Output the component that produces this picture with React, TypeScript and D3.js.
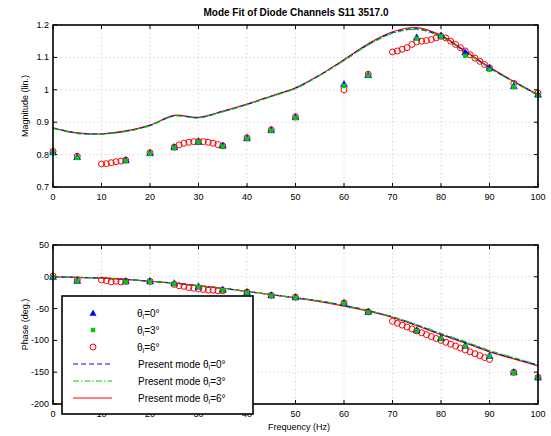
import React from "react";
import * as d3 from "d3";

const title = "Mode Fit of Diode Channels S11 3517.0";
const xLabel = "Frequency (Hz)";
const yLabelTop = "Magnitude (lin.)";
const yLabelBot = "Phase (deg.)";

const xTicks = [0, 10, 20, 30, 40, 50, 60, 70, 80, 90, 100];
const yTicksTop = [0.7, 0.8, 0.9, 1.0, 1.1, 1.2];
const yTicksBot = [-200, -150, -100, -50, 0, 50];

// model curves
const modelFreq = [0, 5, 10, 15, 20, 25, 30, 35, 40, 45, 50, 55, 60, 65, 70, 75, 80, 85, 90, 95, 100];
const modelMag0 = [0.882, 0.866, 0.864, 0.872, 0.89, 0.92, 0.914, 0.933, 0.955, 0.98, 1.005, 1.045, 1.092, 1.14, 1.176, 1.188, 1.165, 1.118, 1.068, 1.025, 0.984];
const modelMag1 = [0.881, 0.865, 0.863, 0.871, 0.889, 0.919, 0.913, 0.932, 0.954, 0.979, 1.004, 1.044, 1.09, 1.138, 1.174, 1.186, 1.164, 1.117, 1.067, 1.024, 0.983];
const modelMag2 = [0.883, 0.867, 0.864, 0.873, 0.891, 0.921, 0.915, 0.934, 0.956, 0.981, 1.006, 1.046, 1.093, 1.142, 1.179, 1.192, 1.168, 1.12, 1.07, 1.026, 0.985];
const modelPh0 = [0, -1, -2, -4, -7, -10, -14, -18, -23, -28, -33, -38, -45, -53, -63, -76, -90, -103, -117, -128, -139];
const modelPh1 = [0, -1, -2, -4, -7, -10, -14, -18, -23, -28, -33, -38, -45, -53, -63, -75, -89, -102, -116, -127, -138];
const modelPh2 = [0, -1, -2, -4, -7, -10, -14, -18, -23, -28, -33, -39, -46, -54, -64, -77, -91, -104, -118, -129, -140];

// measured: theta 0 (blue triangles) and theta 3 (green squares)
const measFreq = [0, 5, 15, 20, 25, 30, 35, 40, 45, 50, 60, 65, 75, 80, 85, 90, 95, 100];
const measMag0 = [0.808, 0.793, 0.783, 0.805, 0.823, 0.84, 0.828, 0.851, 0.876, 0.916, 1.018, 1.046, 1.162, 1.168, 1.116, 1.068, 1.012, 0.986];
const measMag1 = [0.805, 0.79, 0.781, 0.803, 0.821, 0.838, 0.825, 0.849, 0.874, 0.913, 1.012, 1.044, 1.158, 1.165, 1.105, 1.062, 1.008, 0.982];
const measPh0 = [0, -6, -7, -7, -10, -15, -20, -24, -29, -32, -41, -55, -84, -96, -108, -124, -150, -158];
const measPh1 = [-1, -7, -8, -8, -11, -16, -21, -25, -30, -33, -42, -56, -85, -97, -109, -125, -151, -159];

// measured theta 6 (red circles), denser sampling
const redFreq = [0, 5, 10, 11, 12, 13, 14, 15, 20, 25, 26, 27, 28, 29, 30, 31, 32, 33, 34, 35, 40, 45, 50, 60, 65,
  70, 71, 72, 73, 74, 75, 76, 77, 78, 79, 80, 81, 82, 83, 84, 85, 86, 87, 88, 89, 90, 95, 100];
const redMag = [0.81, 0.795, 0.771, 0.772, 0.775, 0.778, 0.78, 0.783, 0.806, 0.823, 0.83, 0.835, 0.838, 0.84, 0.841, 0.84, 0.838, 0.835, 0.831, 0.827, 0.852, 0.877, 0.917, 1.0, 1.048,
  1.117, 1.12, 1.125, 1.13, 1.14, 1.148, 1.15, 1.152, 1.155, 1.16, 1.165, 1.16, 1.15, 1.14, 1.13, 1.12, 1.108, 1.098, 1.088, 1.078, 1.068, 1.02, 0.99];
const redPh = [1, -5, -5, -6, -8, -7, -8, -7, -7, -12, -14, -15, -17, -18, -19, -20, -21, -21, -22, -22, -24, -29, -32, -41, -55,
  -70, -73, -76, -79, -82, -85, -88, -91, -94, -97, -100, -103, -106, -109, -112, -115, -118, -121, -124, -127, -130, -150, -158];

const legendLabels = ["0°", "3°", "6°", "0°", "3°", "6°"];

const BLUE = "#0000ff";
const GREEN = "#00cc00";
const RED = "#ff0000";

export default function App() {
  const x = d3.scaleLinear().domain([0, 100]).range([53, 538]);
  const yT = d3.scaleLinear().domain([0.7, 1.2]).range([187, 25]);
  const yB = d3.scaleLinear().domain([-200, 50]).range([404, 245]);

  const fmt = (v: number) => {
    const s = d3.format(".1f")(v);
    return s.endsWith(".0") ? s.slice(0, -2) : s;
  };

  const lineGen = (ys: number[], yScale: d3.ScaleLinear<number, number>) =>
    d3.line<number>().x((_, i) => x(modelFreq[i])).y((d) => yScale(d)).curve(d3.curveCatmullRom)(ys) || "";

  const tri = (cx: number, cy: number, s = 3.5) =>
    `M${cx},${cy - s} L${cx + s},${cy + s * 0.8} L${cx - s},${cy + s * 0.8} Z`;

  const font = "Liberation Sans, Arial, sans-serif";

  const axes = (
    yScale: d3.ScaleLinear<number, number>,
    yTicks: number[],
    yLab: string,
    yFmt: (v: number) => string,
    key: string
  ) => {
    const [y0, y1] = yScale.range();
    const x0 = x.range()[0];
    const x1 = x.range()[1];
    return (
      <g key={key}>
        {xTicks.map((t) => (
          <line key={"gx" + t} x1={x(t)} x2={x(t)} y1={y1} y2={y0} stroke="#bbb" strokeWidth={0.8} strokeDasharray="1,3" />
        ))}
        {yTicks.map((t) => (
          <line key={"gy" + t} x1={x0} x2={x1} y1={yScale(t)} y2={yScale(t)} stroke="#bbb" strokeWidth={0.8} strokeDasharray="1,3" />
        ))}
        {xTicks.map((t) => (
          <g key={"tx" + t}>
            <line x1={x(t)} x2={x(t)} y1={y0} y2={y0 - 4} stroke="#000" />
            <line x1={x(t)} x2={x(t)} y1={y1} y2={y1 + 4} stroke="#000" />
            <text x={x(t)} y={y0 + 13} fontSize={9} textAnchor="middle" fontFamily={font}>{t}</text>
          </g>
        ))}
        {yTicks.map((t) => (
          <g key={"ty" + t}>
            <line x1={x0} x2={x0 + 4} y1={yScale(t)} y2={yScale(t)} stroke="#000" />
            <line x1={x1} x2={x1 - 4} y1={yScale(t)} y2={yScale(t)} stroke="#000" />
            <text x={x0 - 4} y={yScale(t) + 3} fontSize={9} textAnchor="end" fontFamily={font}>{yFmt(t)}</text>
          </g>
        ))}
        <text
          transform={`translate(28,${(y0 + y1) / 2}) rotate(-90)`}
          fontSize={9}
          textAnchor="middle"
          fontFamily={font}
        >{yLab}</text>
      </g>
    );
  };

  const frame = (yScale: d3.ScaleLinear<number, number>, key: string) => {
    const [y0, y1] = yScale.range();
    return (
      <rect key={key} x={x.range()[0]} y={y1} width={x.range()[1] - x.range()[0]} height={y0 - y1} fill="none" stroke="#000" strokeWidth={1.6} />
    );
  };

  const markers = (
    mag0: number[], mag1: number[], magR: number[], yScale: d3.ScaleLinear<number, number>, key: string
  ) => (
    <g key={key}>
      {redFreq.map((f, i) => (
        <circle key={"r" + i} cx={x(f)} cy={yScale(magR[i])} r={3} fill="none" stroke={RED} strokeWidth={1} />
      ))}
      {measFreq.map((f, i) => (
        <path key={"b" + i} d={tri(x(f), yScale(mag0[i]))} fill={BLUE} stroke={BLUE} strokeWidth={0.5} />
      ))}
      {measFreq.map((f, i) => (
        <rect key={"g" + i} x={x(f) - 2.2} y={yScale(mag1[i]) - 2.2} width={4.4} height={4.4} fill={GREEN} />
      ))}
    </g>
  );

  const lines = (a: number[], b: number[], c: number[], yScale: d3.ScaleLinear<number, number>, key: string) => (
    <g key={key} fill="none">
      <path d={lineGen(c, yScale)} stroke={RED} strokeWidth={1.2} />
      <path d={lineGen(a, yScale)} stroke={BLUE} strokeWidth={1.2} strokeDasharray="5,3" />
      <path d={lineGen(b, yScale)} stroke={GREEN} strokeWidth={1.2} strokeDasharray="6,2,1.5,2" />
    </g>
  );

  const legX = 62;
  const legY = 296;
  const legW = 191;
  const legH = 118;
  const rowY = [313, 330, 347, 364, 381, 398];

  const thetaLabel = (prefix: string, val: string, xx: number, yy: number, k: string) => (
    <text key={k} x={xx} y={yy + 3.5} fontSize={10} fontFamily={font}>
      {prefix}θ<tspan fontSize={7} dy={2}>i</tspan><tspan dy={-2}>={val}</tspan>
    </text>
  );

  return (
    <svg width={551} height={436} style={{ position: "absolute", left: 0, top: 0, background: "#fff" }}>
      <rect x={0} y={0} width={551} height={436} fill="#fff" />
      <text x={296} y={16} fontSize={10} textAnchor="middle" fontFamily={font} fontWeight="bold">{title}</text>

      {axes(yT, yTicksTop, yLabelTop, fmt, "axT")}
      {lines(modelMag0, modelMag1, modelMag2, yT, "lT")}
      {markers(measMag0, measMag1, redMag, yT, "mT")}
      {frame(yT, "fT")}

      {axes(yB, yTicksBot, yLabelBot, (v) => String(v), "axB")}
      {lines(modelPh0, modelPh1, modelPh2, yB, "lB")}
      {markers(measPh0, measPh1, redPh, yB, "mB")}
      {frame(yB, "fB")}

      <text x={299} y={430} fontSize={9} textAnchor="middle" fontFamily={font}>{xLabel}</text>

      {/* legend */}
      <g>
        <rect x={legX} y={legY} width={legW} height={legH} fill="#fff" stroke="#000" strokeWidth={1.6} />
        <path d={tri(93, rowY[0])} fill={BLUE} />
        <rect x={93 - 2.2} y={rowY[1] - 2.2} width={4.4} height={4.4} fill={GREEN} />
        <circle cx={93} cy={rowY[2]} r={3} fill="none" stroke={RED} />
        <line x1={73} x2={112} y1={rowY[3]} y2={rowY[3]} stroke={BLUE} strokeWidth={1.2} strokeDasharray="5,3" />
        <line x1={73} x2={112} y1={rowY[4]} y2={rowY[4]} stroke={GREEN} strokeWidth={1.2} strokeDasharray="6,2,1.5,2" />
        <line x1={73} x2={112} y1={rowY[5]} y2={rowY[5]} stroke={RED} strokeWidth={1.2} />
        {legendLabels.map((l, i) =>
          thetaLabel(i < 3 ? "" : "Present mode ", l, i < 3 ? 137 : 138, rowY[i], "lg" + i)
        )}
      </g>
    </svg>
  );
}
